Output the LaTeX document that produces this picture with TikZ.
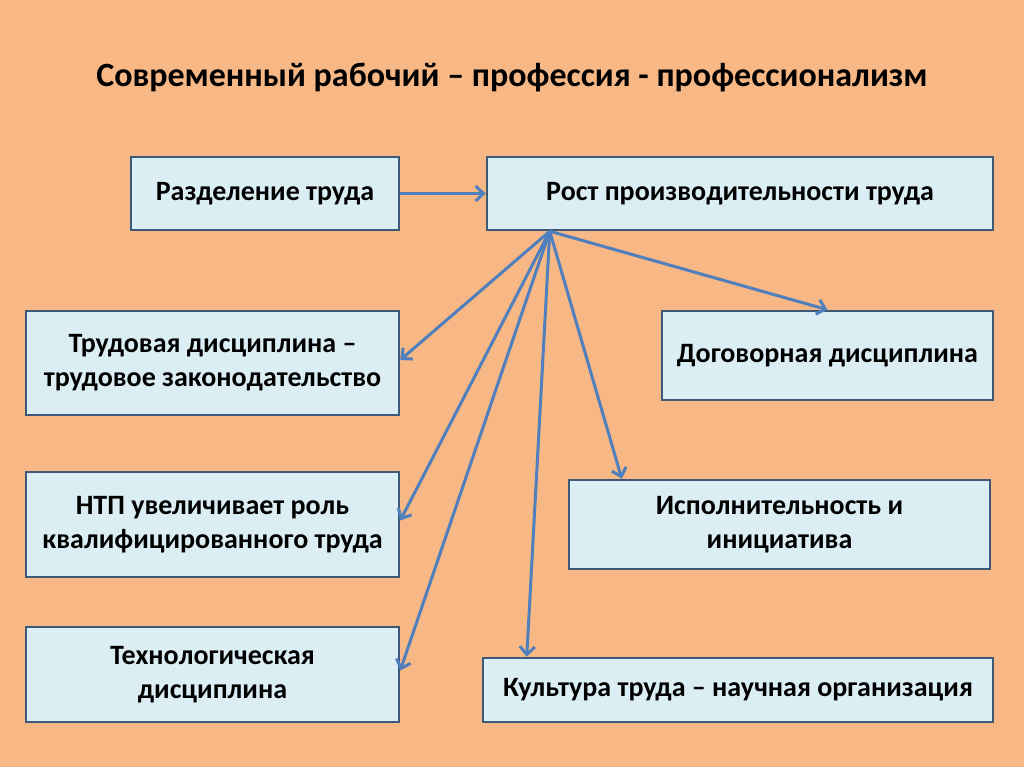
\documentclass[tikz,border=0pt]{standalone}
\usepackage{fontspec}
\setmainfont{Carlito}
\usetikzlibrary{arrows.meta,calc}
\definecolor{bgc}{HTML}{F8B886}
\definecolor{boxfill}{HTML}{DBEEF4}
\definecolor{boxline}{HTML}{3C5A78}
\definecolor{arr}{HTML}{4F7FBC}
\begin{document}
\begin{tikzpicture}[x=1pt,y=-1pt,
 box/.style={draw=boxline, fill=boxfill, line width=2.5pt, align=center,
   font=\fontsize{28}{34}\selectfont\bfseries, inner sep=0pt},
 arrowline/.style={draw=arr, line width=3pt, -{Straight Barb[length=8pt,width=15pt]}}]
\fill[bgc] (0,0) rectangle (1024,767);
\useasboundingbox (0,0) rectangle (1024,767);
\node[font=\fontsize{34}{40}\selectfont\bfseries] (title) at (512,78) {Современный рабочий – профессия - профессионализм};
\node[box, minimum width=268pt, minimum height=73pt] (razd) at (265,193.5) {Разделение труда};
\node[box, minimum width=506pt, minimum height=73pt] (rost) at (740,193.5) {Рост производительности труда};
\node[box, minimum width=373pt, minimum height=104pt] (trud) at (212.5,363) {Трудовая дисциплина –\\трудовое законодательство};
\node[box, minimum width=331pt, minimum height=89pt] (dog) at (827.5,355.5) {Договорная дисциплина};
\node[box, minimum width=373pt, minimum height=105pt] (ntp) at (212.5,524.5) {НТП увеличивает роль\\квалифицированного труда};
\node[box, minimum width=421pt, minimum height=89pt] (isp) at (779.5,524.5) {Исполнительность и\\инициатива};
\node[box, minimum width=373pt, minimum height=95pt] (tech) at (212.5,674.5) {Технологическая\\дисциплина};
\node[box, minimum width=510pt, minimum height=64pt] (kult) at (738,690) {Культура труда – научная организация};
\coordinate (src) at ($(rost.south west)+(64,0)$);
\coordinate (ispT) at ([xshift=54pt]isp.north west);
\coordinate (kultT) at ([xshift=45pt]kult.north west);
\draw[arrowline] (razd) -- (rost);
\draw[arrowline] (src) -- ([yshift=3pt]trud.east);
\draw[arrowline] (src) -- ([yshift=4pt]ntp.east);
\draw[arrowline] (src) -- ([yshift=4pt]tech.east);
\draw[arrowline] (src) -- (kultT);
\draw[arrowline] (src) -- (ispT);
\draw[arrowline] (src) -- (dog.north);
\end{tikzpicture}
\end{document}
